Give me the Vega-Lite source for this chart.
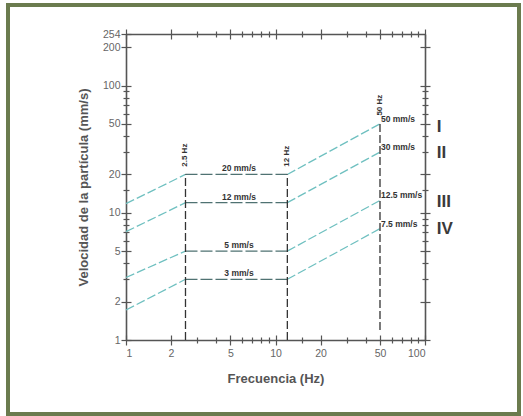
{
  "$schema": "https://vega.github.io/schema/vega-lite/v6.json",
  "autosize": {"type": "none"},
  "width": 511,
  "height": 409,
  "padding": {"left": 8, "top": 5, "right": 4, "bottom": 2},
  "background": "white",
  "config": {
    "view": {"stroke": "#6b7b4e", "strokeWidth": 4, "fill": "white"},
    "font": "Liberation Sans",
    "axis": {"domain": false, "grid": false, "domainColor": "#555555", "domainWidth": 1.6, "tickColor": "#555555", "tickWidth": 1.2, "labelColor": "#666666", "labelFont": "Liberation Sans", "labelFontSize": 10.5, "titleColor": "#555555", "titleFont": "Liberation Sans", "titleFontSize": 13, "titleFontWeight": "bold"}
  },
  "datasets": {
    "lines": [
      {"curve": "I", "seg": "Ia", "kind": "slope", "f": 1, "v": 11.8},
      {"curve": "I", "seg": "Ia", "kind": "slope", "f": 2.5, "v": 20},
      {"curve": "I", "seg": "Ic", "kind": "slope", "f": 12, "v": 20},
      {"curve": "I", "seg": "Ic", "kind": "slope", "f": 50, "v": 50},
      {"curve": "II", "seg": "IIa", "kind": "slope", "f": 1, "v": 7.1},
      {"curve": "II", "seg": "IIa", "kind": "slope", "f": 2.5, "v": 12},
      {"curve": "II", "seg": "IIc", "kind": "slope", "f": 12, "v": 12},
      {"curve": "II", "seg": "IIc", "kind": "slope", "f": 50, "v": 30},
      {"curve": "III", "seg": "IIIa", "kind": "slope", "f": 1, "v": 3.1},
      {"curve": "III", "seg": "IIIa", "kind": "slope", "f": 2.5, "v": 5},
      {"curve": "III", "seg": "IIIc", "kind": "slope", "f": 12, "v": 5},
      {"curve": "III", "seg": "IIIc", "kind": "slope", "f": 50, "v": 12.5},
      {"curve": "IV", "seg": "IVa", "kind": "slope", "f": 1, "v": 1.72},
      {"curve": "IV", "seg": "IVa", "kind": "slope", "f": 2.5, "v": 3},
      {"curve": "IV", "seg": "IVc", "kind": "slope", "f": 12, "v": 3},
      {"curve": "IV", "seg": "IVc", "kind": "slope", "f": 50, "v": 7.5},
      {"curve": "I", "seg": "Ib", "kind": "flat", "f": 2.5, "v": 20},
      {"curve": "I", "seg": "Ib", "kind": "flat", "f": 12, "v": 20},
      {"curve": "II", "seg": "IIb", "kind": "flat", "f": 2.5, "v": 12},
      {"curve": "II", "seg": "IIb", "kind": "flat", "f": 12, "v": 12},
      {"curve": "III", "seg": "IIIb", "kind": "flat", "f": 2.5, "v": 5},
      {"curve": "III", "seg": "IIIb", "kind": "flat", "f": 12, "v": 5},
      {"curve": "IV", "seg": "IVb", "kind": "flat", "f": 2.5, "v": 3},
      {"curve": "IV", "seg": "IVb", "kind": "flat", "f": 12, "v": 3}
    ],
    "vlines": [
      {"f": 2.5, "v0": 1, "v1": 20},
      {"f": 12, "v0": 1, "v1": 20},
      {"f": 50, "v0": 1.2, "v1": 50}
    ],
    "midlabels": [
      {"text": "20 mm/s", "f": 5.7, "v": 20},
      {"text": "12 mm/s", "f": 5.7, "v": 12},
      {"text": "5 mm/s", "f": 5.7, "v": 5},
      {"text": "3 mm/s", "f": 5.7, "v": 3}
    ],
    "rightlabels": [
      {"text": "50 mm/s", "f": 50, "v": 50},
      {"text": "30 mm/s", "f": 50, "v": 30},
      {"text": "12.5 mm/s", "f": 50, "v": 12.5},
      {"text": "7.5 mm/s", "f": 50, "v": 7.5}
    ],
    "hzlabels": [
      {"text": "2.5 Hz", "f": 2.5, "v": 23},
      {"text": "12 Hz", "f": 12, "v": 23},
      {"text": "50 Hz", "f": 50, "v": 58}
    ],
    "roman": [
      {"text": "I", "f": 120, "v": 47},
      {"text": "II", "f": 120, "v": 29.5},
      {"text": "III", "f": 120, "v": 12.2},
      {"text": "IV", "f": 120, "v": 7.4}
    ]
  },
  "resolve": {"axis": {"x": "independent", "y": "independent"}},
  "layer": [
    {
      "data": {"name": "lines"},
      "transform": [{"filter": "datum.kind === 'slope'"}],
      "mark": {"type": "line", "color": "#6fc0c0", "strokeWidth": 1.3, "strokeDash": [9, 3]},
      "encoding": {
        "detail": {"field": "seg"},
        "x": {"field": "f", "type": "quantitative", "scale": {"type": "log", "domain": [1, 100], "range": [118, 417], "nice": false},
          "axis": {"orient": "bottom", "values": [1, 2, 5, 10, 20, 50, 100], "tickSize": 10, "offset": -79, "labelPadding": 3, "title": "Frecuencia (Hz)", "titlePadding": 14, "format": "d"}},
        "y": {"field": "v", "type": "quantitative", "scale": {"type": "log", "domain": [1, 254], "range": [335, 29], "nice": false},
          "axis": {"orient": "left", "values": [1, 2, 5, 10, 20, 50, 100, 200, 254], "tickSize": 10, "offset": -123, "labelPadding": 1, "title": "Velocidad de la partícula (mm/s)", "titlePadding": 12, "format": "d"}}
      }
    },
    {
      "data": {"name": "lines"},
      "transform": [{"filter": "datum.kind === 'flat'"}],
      "mark": {"type": "line", "color": "#4f7272", "strokeWidth": 1.3, "strokeDash": [12, 3]},
      "encoding": {
        "detail": {"field": "seg"},
        "x": {"field": "f", "type": "quantitative", "scale": {"type": "log", "domain": [1, 100], "range": [118, 417], "nice": false},
          "axis": {"orient": "bottom", "values": [3, 4, 6, 7, 8, 9, 15, 30, 40, 60, 70, 80, 90], "tickSize": 6, "offset": -77, "labels": false, "title": null}},
        "y": {"field": "v", "type": "quantitative", "scale": {"type": "log", "domain": [1, 254], "range": [335, 29], "nice": false},
          "axis": {"orient": "left", "values": [3, 4, 6, 7, 8, 9, 15, 30, 40, 60, 70, 80, 90], "tickSize": 6, "offset": -121, "labels": false, "title": null}}
      }
    },
    {
      "data": {"name": "vlines"},
      "mark": {"type": "rule", "color": "#333333", "strokeWidth": 1.3, "strokeDash": [8, 3]},
      "encoding": {
        "x": {"field": "f", "type": "quantitative", "scale": {"type": "log", "domain": [1, 100], "range": [118, 417], "nice": false},
          "axis": {"orient": "top", "values": [1, 2, 5, 10, 20, 50, 100], "tickSize": 10, "offset": -34, "labels": false, "title": null}},
        "y": {"field": "v0", "type": "quantitative", "scale": {"type": "log", "domain": [1, 254], "range": [335, 29], "nice": false},
          "axis": {"orient": "right", "values": [1, 2, 5, 10, 20, 50, 100, 200], "tickSize": 10, "offset": -99, "labels": false, "title": null}},
        "y2": {"field": "v1"}
      }
    },
    {
      "data": {"name": "midlabels"},
      "mark": {"type": "text", "fontSize": 8.5, "fontWeight": "bold", "color": "#333333", "baseline": "bottom", "dy": -1},
      "encoding": {
        "text": {"field": "text"},
        "x": {"field": "f", "type": "quantitative", "scale": {"type": "log", "domain": [1, 100], "range": [118, 417], "nice": false},
          "axis": {"orient": "top", "values": [3, 4, 6, 7, 8, 9, 15, 30, 40, 60, 70, 80, 90], "tickSize": 6, "offset": -32, "labels": false, "title": null}},
        "y": {"field": "v", "type": "quantitative", "scale": {"type": "log", "domain": [1, 254], "range": [335, 29], "nice": false},
          "axis": {"orient": "right", "values": [3, 4, 6, 7, 8, 9, 15, 30, 40, 60, 70, 80, 90], "tickSize": 6, "offset": -97, "labels": false, "title": null}}
      }
    },
    {
      "data": {"name": "rightlabels"},
      "mark": {"type": "text", "fontSize": 8.5, "fontWeight": "bold", "color": "#333333", "baseline": "bottom", "align": "left", "dx": 1, "dy": 0},
      "encoding": {
        "text": {"field": "text"},
        "x": {"field": "f", "type": "quantitative", "scale": {"type": "log", "domain": [1, 100], "range": [118, 417], "nice": false},
          "axis": {"orient": "bottom", "domain": true, "ticks": false, "labels": false, "title": null, "offset": -74}},
        "y": {"field": "v", "type": "quantitative", "scale": {"type": "log", "domain": [1, 254], "range": [335, 29], "nice": false},
          "axis": {"orient": "left", "domain": true, "ticks": false, "labels": false, "title": null, "offset": -118}}
      }
    },
    {
      "data": {"name": "hzlabels"},
      "mark": {"type": "text", "fontSize": 8, "fontWeight": "bold", "color": "#333333", "baseline": "middle", "align": "left", "angle": 270},
      "encoding": {
        "text": {"field": "text"},
        "x": {"field": "f", "type": "quantitative", "scale": {"type": "log", "domain": [1, 100], "range": [118, 417], "nice": false},
          "axis": {"orient": "top", "domain": true, "ticks": false, "labels": false, "title": null, "offset": -29}},
        "y": {"field": "v", "type": "quantitative", "scale": {"type": "log", "domain": [1, 254], "range": [335, 29], "nice": false},
          "axis": {"orient": "right", "domain": true, "ticks": false, "labels": false, "title": null, "offset": -94}}
      }
    },
    {
      "data": {"name": "roman"},
      "mark": {"type": "text", "fontSize": 17, "fontWeight": "bold", "color": "#3a3a3a", "baseline": "middle", "align": "left"},
      "encoding": {
        "text": {"field": "text"},
        "x": {"field": "f", "type": "quantitative", "scale": {"type": "log", "domain": [1, 100], "range": [118, 417], "nice": false}, "axis": null},
        "y": {"field": "v", "type": "quantitative", "scale": {"type": "log", "domain": [1, 254], "range": [335, 29], "nice": false}, "axis": null}
      }
    }
  ]
}
